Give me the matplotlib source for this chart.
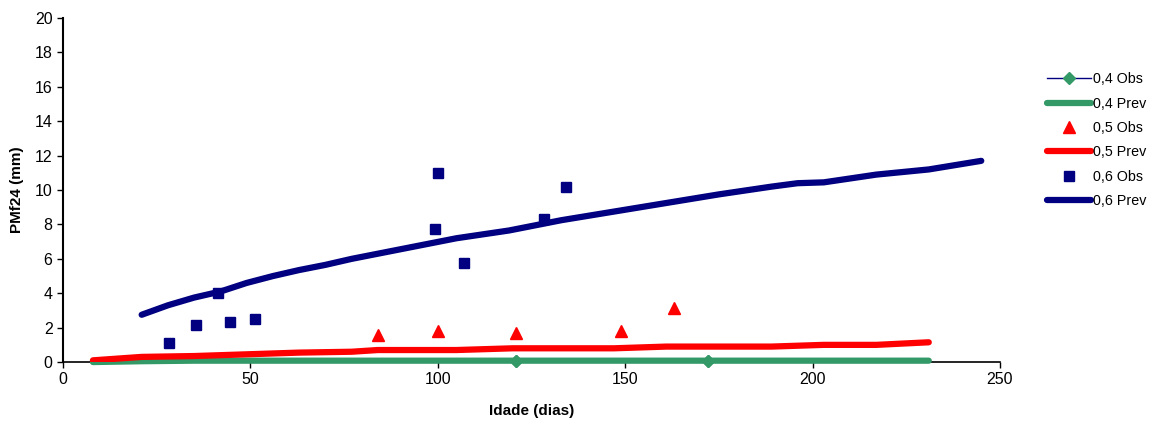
import numpy as np
import matplotlib.pyplot as plt

plt.rcParams['font.family'] = ['Liberation Sans', 'DejaVu Sans']

# 0,4 series
obs04_x = [121, 172]
obs04_y = [0.05, 0.05]
prev04_x = [8, 21, 35, 49, 63, 77, 91, 105, 119, 133, 147, 161, 175, 189, 203, 217, 231]
prev04_y = [0.0, 0.05, 0.08, 0.08, 0.08, 0.08, 0.08, 0.08, 0.08, 0.08, 0.08, 0.08, 0.08, 0.08, 0.08, 0.08, 0.08]

# 0,5 series
obs05_x = [84, 100, 121, 149, 163]
obs05_y = [1.57, 1.8, 1.69, 1.8, 3.14]
prev05_x = [8, 21, 35, 49, 63, 77, 84, 105, 120, 147, 161, 189, 203, 217, 231]
prev05_y = [0.1, 0.3, 0.35, 0.45, 0.55, 0.6, 0.7, 0.7, 0.8, 0.8, 0.9, 0.9, 1.0, 1.0, 1.15]

# 0,6 series
obs06_x = [28.3, 35.5, 41.3, 44.6, 51.2, 99.3, 100.1, 107, 128.3, 134.2]
obs06_y = [1.1, 2.15, 4.0, 2.35, 2.5, 7.73, 11.0, 5.75, 8.3, 10.2]
prev06_x = [21, 28, 35, 42, 49, 56, 63, 70, 77, 91, 98, 105, 119, 133, 147, 161, 175, 189, 196, 203, 217, 231, 245]
prev06_y = [2.75, 3.3, 3.75, 4.1, 4.6, 5.0, 5.35, 5.65, 6.0, 6.6, 6.9, 7.2, 7.65, 8.25, 8.75, 9.25, 9.75, 10.2, 10.4, 10.45, 10.9, 11.2, 11.7]

navy = '#000080'
green = '#339966'
red = '#FF0000'

fig = plt.figure(figsize=(11.51, 4.21), dpi=100)
ax = fig.add_axes([0.0547, 0.140, 0.8141, 0.817])

ax.plot(obs04_x, obs04_y, color=navy, lw=1, marker='D', ms=6, mfc=green, mec=green,
        label='0,4 Obs', zorder=3, clip_on=False)
ax.plot(prev04_x, prev04_y, color=green, lw=4.5, solid_capstyle='round', label='0,4 Prev',
        zorder=3, clip_on=False)
ax.plot(prev05_x, prev05_y, color=red, lw=4.5, solid_capstyle='round', label='0,5 Prev', zorder=3)
ax.plot(prev06_x, prev06_y, color=navy, lw=4.5, solid_capstyle='round', label='0,6 Prev', zorder=3)
ax.plot(obs04_x, obs04_y, ls='none', marker='D', ms=6, color=green, zorder=4, clip_on=False)
ax.plot(obs05_x, obs05_y, ls='none', marker='^', ms=8, color=red, label='0,5 Obs', zorder=4)
ax.plot(obs06_x, obs06_y, ls='none', marker='s', ms=7, color=navy, label='0,6 Obs', zorder=4)

ax.set_xlim(0, 250)
ax.set_ylim(0, 20)
ax.set_xticks(np.arange(0, 251, 50))
ax.set_yticks(np.arange(0, 21, 2))
ax.tick_params(direction='out', length=4, width=1, labelsize=11.5, colors='black')
ax.spines['top'].set_visible(False)
ax.spines['right'].set_visible(False)
ax.spines['left'].set_linewidth(1.5)
ax.spines['bottom'].set_linewidth(1.2)
ax.set_xlabel('Idade (dias)', fontsize=11, fontweight='bold', labelpad=12)
ax.set_ylabel('PMf24 (mm)', fontsize=11, fontweight='bold', labelpad=8)

h, l = ax.get_legend_handles_labels()
order = ['0,4 Obs', '0,4 Prev', '0,5 Obs', '0,5 Prev', '0,6 Obs', '0,6 Prev']
hd = dict(zip(l, h))
fig.legend([hd[k] for k in order], order, loc='upper left', bbox_to_anchor=(0.903, 0.845),
           frameon=False, fontsize=10.3, handlelength=3.1, handletextpad=0.15,
           labelspacing=0.72, borderpad=0)

fig.savefig('out.png', dpi=100)
